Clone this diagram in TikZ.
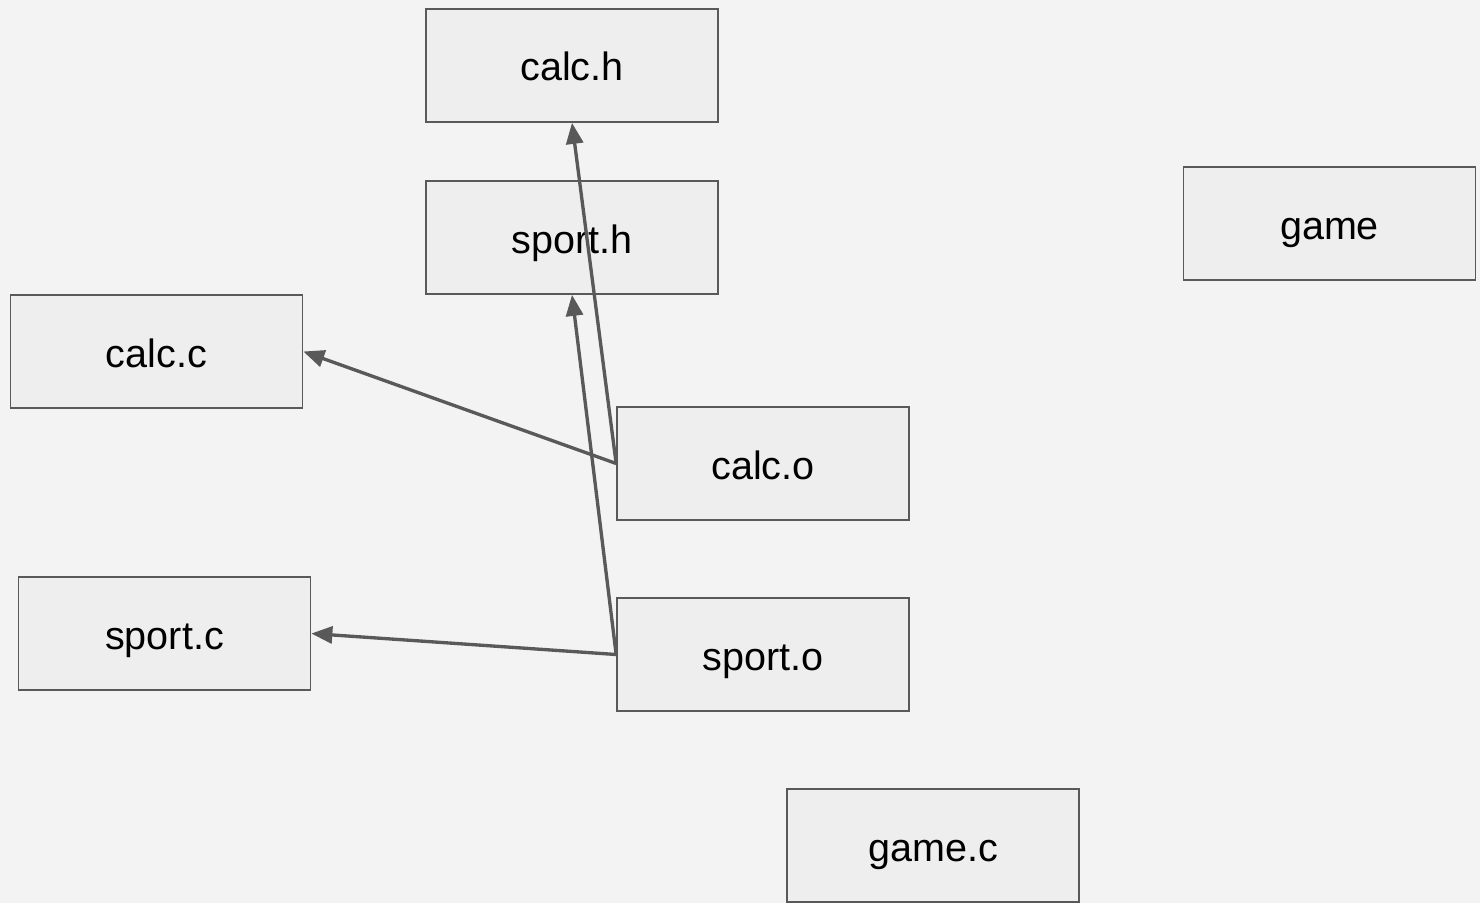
\documentclass[tikz,border=0pt]{standalone}
\usepackage{fontspec}
\setmainfont{Liberation Sans}
\usetikzlibrary{arrows.meta}

\definecolor{bggray}{HTML}{F3F3F3}
\definecolor{boxgray}{HTML}{EEEEEE}
\definecolor{linegray}{HTML}{595959}

\begin{document}
\begin{tikzpicture}[x=0.02cm, y=-0.02cm,
    file/.style = {draw = linegray, fill = boxgray, line width = 1pt,
        minimum width = 5.84cm, minimum height = 2.26cm, inner sep = 0pt,
        text height = 0.8cm, text depth = 0.18cm,
        font = \fontsize{22.5}{26}\selectfont},
    dep/.style = {draw = linegray, line width = 1.9pt,
        -{Triangle[length = 0.42cm, width = 0.34cm]}}]

    \fill [color = bggray] (0,0) rectangle (1480,903);

    \node[file] (calch) at (572,65.5) {calc.h};
    \node[file] (sporth) at (572,237.5) {sport.h};
    \node[file] (calcc) at (156.5,351.5) {calc.c};
    \node[file] (calco) at (763,463.5) {calc.o};
    \node[file] (sportc) at (164.5,633.5) {sport.c};
    \node[file] (sporto) at (763,654.5) {sport.o};
    \node[file] (game) at (1329.5,223.5) {game};
    \node[file] (gamec) at (933,845.5) {game.c};

    \draw[dep] (calco.west) -- (calcc.east);
    \draw[dep] (calco.west) -- (calch.south);
    \draw[dep] (sporto.west) -- (sportc.east);
    \draw[dep] (sporto.west) -- (sporth.south);
\end{tikzpicture}
\end{document}
